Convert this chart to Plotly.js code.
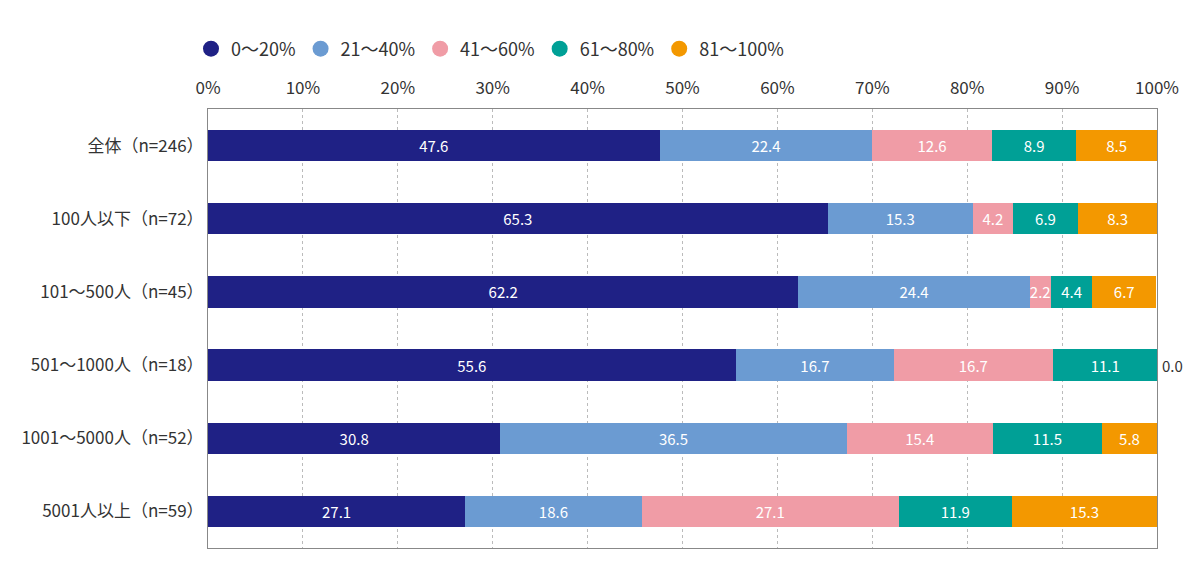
<!DOCTYPE html>
<html>
<head>
<meta charset="utf-8">
<script src="https://cdn.plot.ly/plotly-3.0.1.min.js"></script>
<style>
body { margin: 0; background: #fff; }
#chart { width: 1200px; height: 585px; }
</style>
</head>
<body>
<div id="chart"></div>
<script>
var categories = ['全体（n=246）', '100人以下（n=72）', '101～500人（n=45）', '501～1000人（n=18）', '1001～5000人（n=52）', '5001人以上（n=59）']

var seriesNames = ['0～20%', '21～40%', '41～60%', '61～80%', '81～100%']
var seriesColors = ['#1f2185', '#6b9bd2', '#f09ca6', '#00a096', '#f39800']

var v0to20 = [47.6, 65.3, 62.2, 55.6, 30.8, 27.1]
var v21to40 = [22.4, 15.3, 24.4, 16.7, 36.5, 18.6]
var v41to60 = [12.6, 4.2, 2.2, 16.7, 15.4, 27.1]
var v61to80 = [8.9, 6.9, 4.4, 11.1, 11.5, 11.9]
var v81to100 = [8.5, 8.3, 6.7, 0.0, 5.8, 15.3]

var tickValues = [0, 10, 20, 30, 40, 50, 60, 70, 80, 90, 100]

var allValues = [v0to20, v21to40, v41to60, v61to80, v81to100]

var font = '"Noto Sans CJK JP", "Noto Sans", sans-serif'

var data = []
for (let i = 0; i < allValues.length; i++) {
    var vals = allValues[i]
    data.push({
        type: 'bar',
        orientation: 'h',
        x: vals,
        y: categories,
        name: seriesNames[i],
        showlegend: false,
        marker: { color: seriesColors[i] },
        text: vals.map(v => v === 0 ? '' : v.toFixed(1)),
        textposition: 'inside',
        insidetextanchor: 'middle',
        constraintext: 'none',
        textangle: 0,
        textfont: { family: font, size: 15, color: '#ffffff' },
        hoverinfo: 'none'
    })
}

// legend entries with round markers
for (let i = 0; i < seriesNames.length; i++) {
    data.push({
        type: 'scatter',
        mode: 'markers',
        x: [null],
        y: [null],
        name: seriesNames[i],
        marker: { color: seriesColors[i], size: 16, symbol: 'circle' },
        showlegend: true
    })
}

// zero-width segments get their label just outside the bar end
var annotations = []
for (let j = 0; j < categories.length; j++) {
    var total = 0
    for (let i = 0; i < allValues.length; i++) total += allValues[i][j]
    var last = allValues[allValues.length - 1][j]
    if (last === 0) {
        annotations.push({
            x: Math.min(total, 100),
            y: categories[j],
            xref: 'x',
            yref: 'y',
            text: last.toFixed(1),
            showarrow: false,
            xanchor: 'left',
            xshift: 3,
            font: { family: font, size: 15, color: '#333333' }
        })
    }
}

var layout = {
    width: 1200,
    height: 585,
    margin: { l: 208, r: 43, t: 109, b: 37 },
    barmode: 'stack',
    bargap: 0.57,
    paper_bgcolor: '#ffffff',
    plot_bgcolor: '#ffffff',
    font: { family: font, size: 17, color: '#333333' },
    showlegend: true,
    annotations: annotations,
    legend: {
        orientation: 'h',
        traceorder: 'normal',
        x: 191 / 1200,
        xanchor: 'left',
        xref: 'container',
        y: 1 - 49 / 585,
        yref: 'container',
        yanchor: 'middle',
        font: { family: font, size: 18, color: '#333333' },
        tracegroupgap: 0
    },
    xaxis: {
        side: 'top',
        range: [0, 100],
        tickvals: tickValues,
        ticktext: tickValues.map(v => v + '%'),
        showgrid: true,
        gridcolor: '#bbbbbb',
        griddash: 'dot',
        gridwidth: 1,
        zeroline: false,
        showline: true,
        linecolor: '#888888',
        mirror: true,
        ticks: '',
        ticklabelstandoff: 7,
        automargin: false,
        tickfont: { family: font, size: 17, color: '#333333' },
        fixedrange: true
    },
    yaxis: {
        autorange: 'reversed',
        showline: true,
        linecolor: '#888888',
        mirror: true,
        ticks: '',
        automargin: false,
        tickfont: { family: font, size: 17, color: '#333333' },
        fixedrange: true
    }
}

Plotly.newPlot('chart', data, layout, { displayModeBar: false, staticPlot: true })
</script>
</body>
</html>
